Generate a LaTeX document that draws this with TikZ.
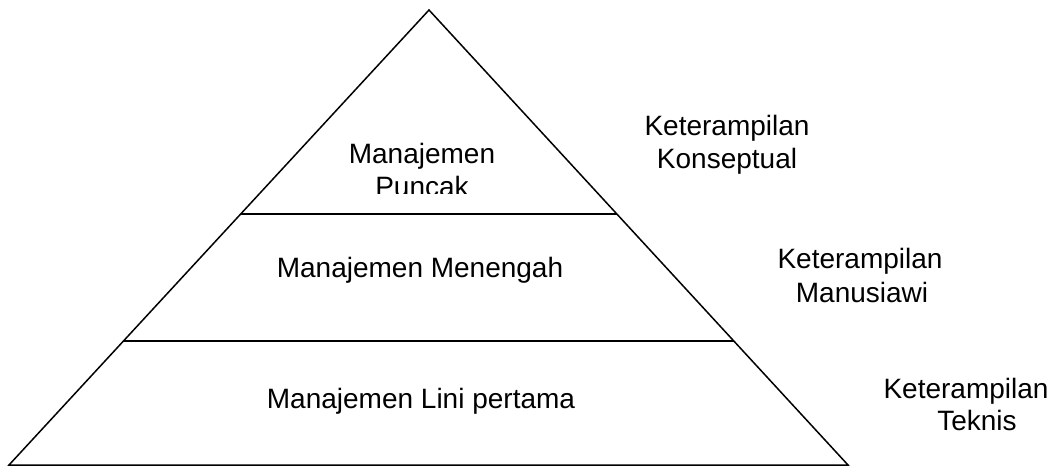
\documentclass[tikz,border=0pt]{standalone}
\usepackage{fontspec}
\setmainfont{Liberation Sans}
\usetikzlibrary{calc}
\tikzset{
	lbl/.style={font=\fontsize{28}{33}\selectfont, inner sep=0pt, anchor=base},
	tier/.style={line width=1.5pt},
}
\begin{document}
\begin{tikzpicture}[x=1pt,y=-1pt]
	\useasboundingbox (0,0) rectangle (1058,467);
	\coordinate (apex) at (429,10);
	\coordinate (bl) at (9,465);
	\coordinate (br) at (848,465);
	\draw[tier, line join=miter] (bl) -- (apex) -- (br) -- cycle;
	\draw[tier] ($(apex)!0.448!(bl)$) -- ($(apex)!0.448!(br)$);
	\draw[tier] ($(apex)!0.7275!(bl)$) -- ($(apex)!0.7275!(br)$);
	% levels
	\node[lbl] (top1) at (422,163) {Manajemen};
	\begin{scope}
		\clip (300,170) rectangle (540,193);
		\node[lbl] (top2) at (422,196) {Puncak};
	\end{scope}
	\node[lbl] (mid) at (420,277) {Manajemen Menengah};
	\node[lbl] (low) at (421,408) {Manajemen Lini pertama};
	% skills
	\node[lbl] (konA) at (727,135) {Keterampilan};
	\node[lbl] (konB) at (727,168) {Konseptual};
	\node[lbl] (manA) at (860,268) {Keterampilan};
	\node[lbl] (manB) at (862,302) {Manusiawi};
	\node[lbl] (tekA) at (966,398) {Keterampilan};
	\node[lbl] (tekB) at (977,430) {Teknis};
\end{tikzpicture}
\end{document}
